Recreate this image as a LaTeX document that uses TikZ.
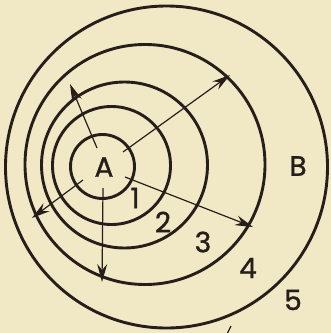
\documentclass[tikz,border=0pt]{standalone}
\usepackage{fontspec}
\setmainfont{Poppins}
\newfontfamily\labfont[FakeBold=1.2]{Poppins}
\usetikzlibrary{arrows.meta}
\definecolor{paper}{RGB}{241,233,197}
\definecolor{ink}{RGB}{38,30,26}

\begin{document}
\begin{tikzpicture}[x=1pt,y=-1pt,line width=2.9pt,color=ink,>={Stealth[length=18pt,width=10pt,inset=6pt]},
  lab/.style={inner sep=0pt,font=\labfont\fontsize{28}{28}\selectfont},
  ray/.style={->,line width=1.2pt}]
% paper
\fill[paper] (0,0) rectangle (331,333);
\useasboundingbox (0,0) rectangle (331,333);
% circles 1--5
\draw (102.5,166.5) circle (32pt);
\draw (111.5,165.5) circle (59pt);
\draw (124.5,165) circle (83pt);
\draw (145,164.5) circle (120pt);
\draw (166.5,167) circle (161pt);
% labels
\node[lab] (a) at (104,167) {A};
\node[lab] (b) at (298,166) {B};
\node[lab] (n1) at (135,198) {1};
\node[lab] (n2) at (163,222) {2};
\node[lab] (n3) at (203,242) {3};
\node[lab] (n4) at (248,268) {4};
\node[lab] (n5) at (293,300) {5};
% rays from A
\coordinate (s1) at (97,148);  \coordinate (e1) at (70,84);
\coordinate (s2) at (123,152); \coordinate (e2) at (230,75);
\coordinate (s3) at (125,177); \coordinate (e3) at (253,227);
\coordinate (s4) at (103,188); \coordinate (e4) at (102,282);
\coordinate (s5) at (83,180);  \coordinate (e5) at (32,218);
\draw[ray] (s1) -- (e1);
\draw[ray] (s2) -- (e2);
\draw[ray] (s3) -- (e3);
\draw[ray] (s4) -- (e4);
\draw[ray] (s5) -- (e5);
% stray mark at the bottom
\draw[line width=1.2pt] (227,334) -- (231,326);
\end{tikzpicture}
\end{document}
